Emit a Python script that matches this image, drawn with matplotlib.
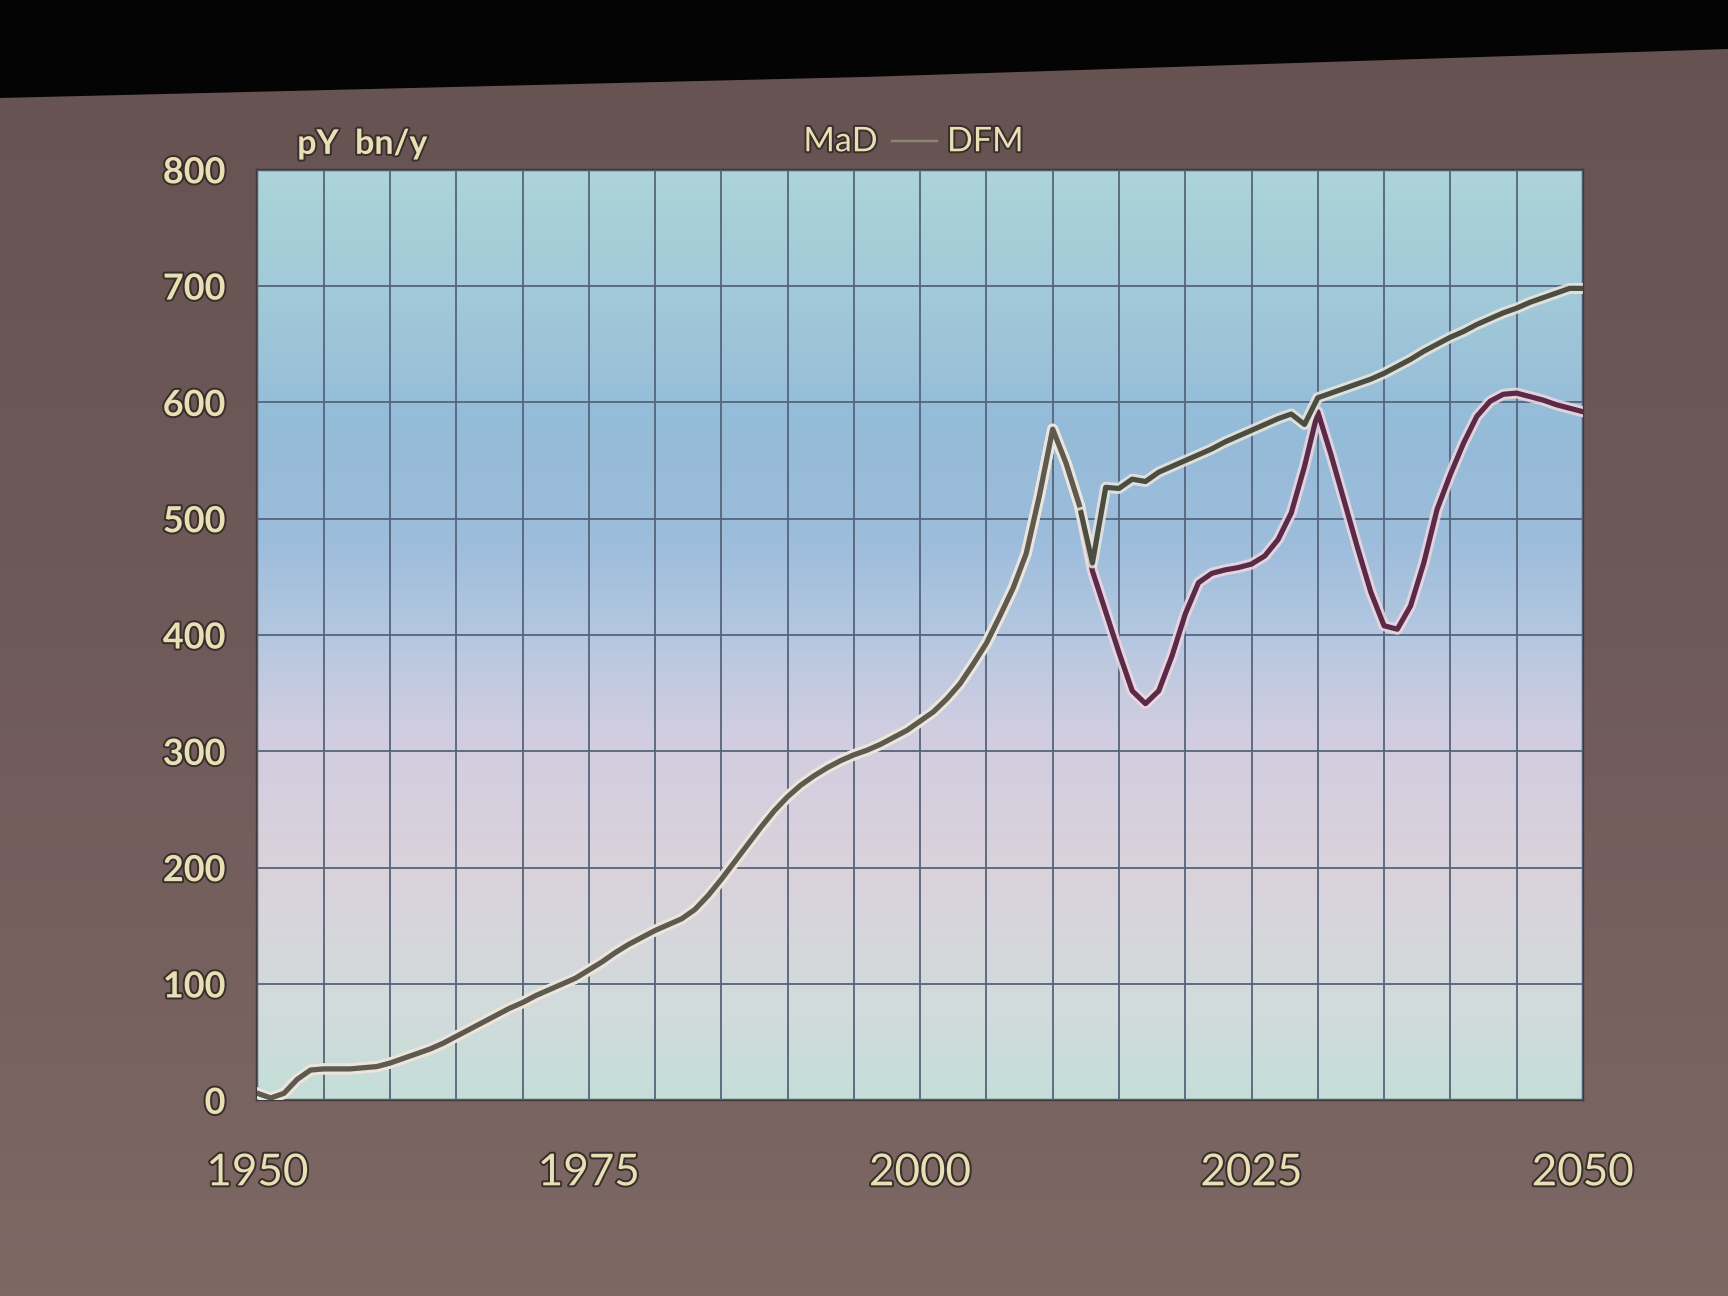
import matplotlib
matplotlib.use("Agg")
import matplotlib.pyplot as plt
import matplotlib.patheffects as pe
from matplotlib.colors import LinearSegmentedColormap
from matplotlib.lines import Line2D
from matplotlib.patches import Polygon
import numpy as np

# shared history 1950-2012
years_hist = list(range(1950, 2013))
common = [6, 2, 6, 18, 26, 27, 27, 27, 28, 29,
          32, 36, 40, 44, 49, 55, 61, 67, 73, 79,
          84, 90, 95, 100, 105, 112, 119, 127, 134, 140,
          146, 151, 156, 164, 176, 190, 205, 220, 235, 249,
          261, 271, 279, 286, 292, 297, 301, 306, 312, 318,
          326, 334, 345, 358, 375, 393, 416, 440, 470, 520,
          577, 548, 512]

# projections 2013-2050
years_proj = list(range(2013, 2051))
mad = [462, 527, 526, 534, 532, 540, 545, 550, 555, 560,
       566, 571, 576, 581, 586, 590, 581, 604, 608, 612,
       616, 620, 625, 631, 637, 644, 650, 656, 661, 667,
       672, 677, 681, 686, 690, 694, 698, 698]
dfm = [455, 420, 385, 352, 341, 352, 382, 418, 445, 453,
       456, 458, 461, 468, 482, 505, 545, 592, 555, 515,
       475, 437, 408, 405, 425, 462, 508, 538, 565, 588,
       601, 607, 608, 605, 602, 598, 595, 592]

x_ticks = [1950, 1975, 2000, 2025, 2050]
y_ticks = [0, 100, 200, 300, 400, 500, 600, 700, 800]

plt.rcParams['font.family'] = ['Lato', 'DejaVu Sans']
txt_col = '#e6e0b4'
outline = [pe.withStroke(linewidth=2, foreground='#3a2e2c')]

fig = plt.figure(figsize=(12, 9), dpi=144)

# slide background with a soft gradient
bg = fig.add_axes([0, 0, 1, 1], zorder=-10)
bg_cmap = LinearSegmentedColormap.from_list('bg', ['#7e6864', '#6f5a5a', '#675252'])
bg.imshow(np.linspace(0, 1, 256).reshape(-1, 1), cmap=bg_cmap, aspect='auto',
          extent=[0, 1, 0, 1], origin='lower')
bg.set_xlim(0, 1)
bg.set_ylim(0, 1)
bg.axis('off')
# dark area above the projected slide
bg.add_patch(Polygon([[0, 1], [1, 1], [1, 1 - 48 / 1296], [0.5, 1 - 76 / 1296],
                      [0, 1 - 97 / 1296]], closed=True, color='#050404'))

ax = fig.add_axes([0.149, 0.151, 0.767, 0.718])
plot_cmap = LinearSegmentedColormap.from_list('plot', [
    (0.0, '#c4ded8'), (0.1, '#d2dbdb'), (0.25, '#dad2dc'), (0.4, '#d0cde0'),
    (0.5, '#b4c7e0'), (0.6, '#9dbddc'), (0.72, '#94bbd8'), (0.85, '#a0c8d8'),
    (1.0, '#acd4d8')])
ax.imshow(np.linspace(0, 1, 256).reshape(-1, 1), cmap=plot_cmap, aspect='auto',
          extent=[1950, 2050, 0, 800], origin='lower', zorder=0)

halo = lambda c: [pe.Stroke(linewidth=5.5, foreground=c, alpha=0.85), pe.Normal()]
ax.plot(years_hist + years_proj, common + mad, color='#4b4d40', lw=2.6, zorder=4,
        solid_joinstyle='round', path_effects=halo('#ece6dc'))
ax.plot(years_hist + years_proj, common + dfm, color='#5b2a48', lw=2.6, zorder=3,
        solid_joinstyle='round', path_effects=halo('#efd8e0'))
# history drawn on top so the shared part looks like one line
ax.plot(years_hist, common, color='#5e5a50', lw=2.6, zorder=5,
        solid_joinstyle='round', path_effects=halo('#ece6dc'))

ax.set_xlim(1950, 2050)
ax.set_ylim(0, 800)
ax.set_xticks(range(1950, 2051, 5), minor=True)
ax.set_xticks(x_ticks)
ax.set_yticks(y_ticks)
ax.set_axisbelow(False)
ax.grid(True, which='both', color='#56637a', lw=0.9)
ax.tick_params(which='both', length=0)
ax.tick_params(axis='x', pad=26, labelsize=22, labelcolor=txt_col)
ax.tick_params(axis='y', pad=16, labelsize=18, labelcolor=txt_col)
for lab in ax.get_yticklabels():
    lab.set_fontweight('bold')
    lab.set_path_effects(outline)
for lab in ax.get_xticklabels():
    lab.set_path_effects(outline)
for s in ax.spines.values():
    s.set_color('#3e3a3c')
    s.set_linewidth(1.2)

fig.text(0.172, 0.889, 'pY  bn/y', color=txt_col, fontsize=17, fontweight='bold',
         ha='left', va='center', path_effects=outline)
fig.text(0.508, 0.891, 'MaD', color=txt_col, fontsize=17, ha='right', va='center',
         path_effects=outline)
fig.add_artist(Line2D([0.516, 0.542], [0.891, 0.891], color='#8a8672', lw=1.2,
                      transform=fig.transFigure))
fig.text(0.548, 0.891, 'DFM', color=txt_col, fontsize=17, ha='left', va='center',
         path_effects=outline)

fig.savefig('out.png', dpi=144, facecolor=fig.get_facecolor())
